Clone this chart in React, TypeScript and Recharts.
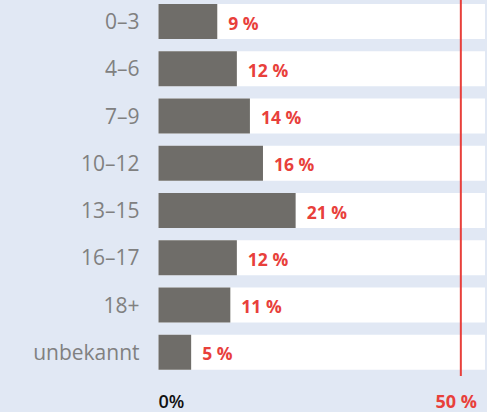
import { BarChart, Bar, XAxis, YAxis, ReferenceLine, LabelList } from "recharts";

const ageGroups = ["0–3", "4–6", "7–9", "10–12", "13–15", "16–17", "18+", "unbekannt"];
const shares = [9, 12, 14, 16, 21, 12, 11, 5];
const xTicks = [0, 50];
const markerValue = 46.3;

const data = ageGroups.map((group, i) => ({ group, value: shares[i] }));

const FONT = "'Open Sans', sans-serif";
const RED = "#e8403b";

const ValueLabel = (props: any) => {
  const { x, y, width, height, value } = props;
  return (
    <text
      x={x + width + 11}
      y={y + height / 2 + 1}
      fill={RED}
      fontFamily={FONT}
      fontWeight={700}
      fontSize={17.5}
      dominantBaseline="central"
    >
      {`${value} %`}
    </text>
  );
};

const XTick = (props: any) => {
  const { x, y, payload } = props;
  const isZero = payload.value === 0;
  return (
    <text
      x={isZero ? x : x - 2}
      y={y + 23}
      textAnchor={isZero ? "start" : "end"}
      dominantBaseline="central"
      fill={isZero ? "#111" : RED}
      fontFamily={FONT}
      fontWeight={isZero ? 600 : 700}
      fontSize={18}
    >
      {isZero ? "0%" : `${payload.value} %`}
    </text>
  );
};

export default function App() {
  return (
    <div
      style={{
        position: "absolute",
        left: 0,
        top: -2,
        width: 487,
        height: 414,
        background: "#e1e8f4",
      }}
    >
      <BarChart
        width={487}
        height={414}
        data={data}
        layout="vertical"
        margin={{ top: 0, right: 2, bottom: 6, left: 0 }}
      >
        <XAxis
          type="number"
          domain={[0, 50]}
          ticks={xTicks}
          axisLine={false}
          tickLine={false}
          tickSize={0}
          height={30}
          tick={<XTick />}
        />
        <YAxis
          type="category"
          dataKey="group"
          width={158.5}
          axisLine={false}
          tickLine={false}
          tickSize={0}
          tickMargin={19}
          tick={{ fill: "#808080", fontSize: 21, fontFamily: FONT }}
        />
        <Bar
          dataKey="value"
          fill="#6f6d69"
          barSize={35}
          background={{ fill: "#ffffff" }}
          isAnimationActive={false}
        >
          <LabelList dataKey="value" content={<ValueLabel />} />
        </Bar>
        <ReferenceLine
          x={markerValue}
          stroke={RED}
          strokeWidth={2}
          ifOverflow="visible"
          segment={[{ x: markerValue, y: ageGroups[0] }, { x: markerValue, y: ageGroups[7] }]}
        />
      </BarChart>
    </div>
  );
}
